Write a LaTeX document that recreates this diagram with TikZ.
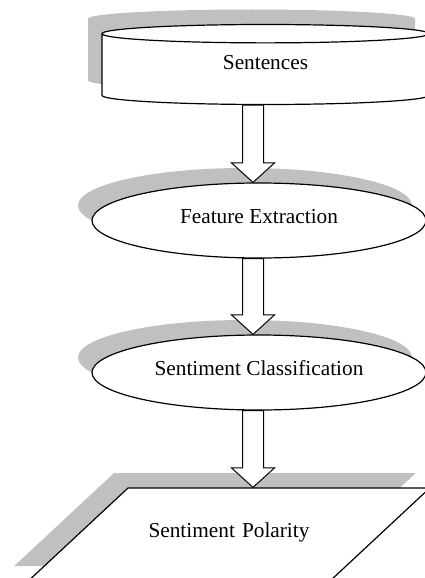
\documentclass[tikz,border=0pt]{standalone}
\usepackage{fontspec}
\setmainfont{Liberation Serif}
\usetikzlibrary{shapes.geometric,shadows,calc}
\definecolor{shadowgray}{RGB}{192,192,192}

\begin{document}
\begin{tikzpicture}[x=1pt,y=-1pt,
        font=\fontsize{21.3}{25}\selectfont,
        block/.style={draw, fill=white, line width=1.2pt,
            general shadow={fill=shadowgray, shadow xshift=-14pt, shadow yshift=15pt}},
        lift/.style={text height=15pt, text depth=10pt},
        bigarrow/.style={draw, fill=white, line width=1pt, to path={
            let \p1=(\tikztostart), \p2=(\tikztotarget) in
            (\x1-10.5pt,\y1) -- (\x1-10.5pt,\y2+19.5pt) -- (\x1-21.5pt,\y2+19.5pt)
            -- (\x2,\y2) -- (\x1+21.5pt,\y2+19.5pt) -- (\x1+10.5pt,\y2+19.5pt)
            -- (\x1+10.5pt,\y1) -- cycle}}]
    \useasboundingbox (0,0) rectangle (425,578);
    \coordinate (mid) at (253,0);
    \node[block, cylinder, shape border rotate=90, aspect=0.2, anchor=shape center,
        text height=15pt, text depth=17pt,
        minimum width=327pt, minimum height=80pt] (sent) at (265.5,64.5) {Sentences};
    \node[block, lift, ellipse, minimum width=334pt, minimum height=75pt] (feat) at (259,220.5) {Feature Extraction};
    \node[block, lift, ellipse, minimum width=334pt, minimum height=75pt] (clas) at (259,372.5) {Sentiment Classification};
    \node[block, lift, trapezium, trapezium left angle=43, trapezium right angle=137,
        text width=175pt, align=center, inner xsep=13.5pt, inner ysep=34pt] (pol) at (229,534.5) {Sentiment Polarity};
    % arrows between the steps
    \draw[bigarrow] (sent.south -| mid) to (feat.north -| mid);
    \draw[bigarrow] (feat.south -| mid) to (clas.north -| mid);
    \draw[bigarrow] (clas.south -| mid) to (pol.north -| mid);
\end{tikzpicture}
\end{document}
